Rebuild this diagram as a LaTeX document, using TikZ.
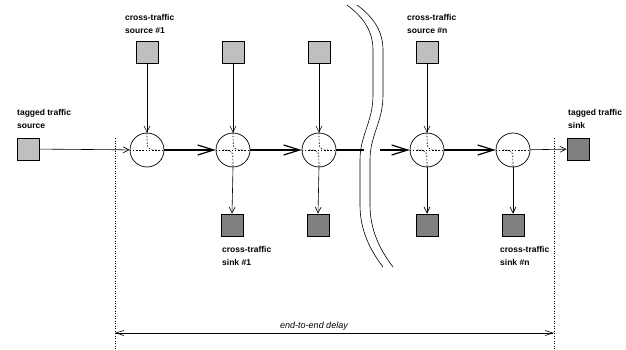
\documentclass[tikz,border=0pt]{standalone}
\usepackage{fontspec}
\setmainfont{Liberation Sans}
\usetikzlibrary{arrows.meta}
\begin{document}
\begin{tikzpicture}[x=1pt,y=-1pt,
  router/.style={circle,draw,line width=0.7pt,minimum size=34pt,inner sep=0pt},
  srcbox/.style={draw,line width=0.9pt,fill=black!25,minimum size=22pt,inner sep=0pt},
  sinkbox/.style={draw,line width=0.9pt,fill=black!50,minimum size=22pt,inner sep=0pt},
  lbl/.style={anchor=north west,inner sep=0pt,align=left,font=\fontsize{8.5}{13}\selectfont\bfseries},
  thinarr/.style={line width=0.6pt,-{Straight Barb[length=6pt,width=6pt]}},
  thickline/.style={line width=1.2pt},
  thickarr/.style={line width=1.2pt,-{Straight Barb[length=16pt,width=10pt]}},
  inner/.style={dash pattern=on 1.6pt off 1.6pt,line width=0.6pt},
  dotline/.style={dash pattern=on 1pt off 1.5pt,line width=0.6pt},
  brk/.style={line width=0.6pt}]
\useasboundingbox (0,0) rectangle (626,350);

% routers
\node[router] (n1) at (147,150) {};
\node[router] (n2) at (233,150) {};
\node[router] (n3) at (319,150) {};
\node[router] (n4) at (427,150) {};
\node[router] (n5) at (513,150) {};

% sources
\node[srcbox] (s1) at (147,52) {};
\node[srcbox] (s2) at (233,52) {};
\node[srcbox] (s3) at (319,52) {};
\node[srcbox] (s4) at (427,52) {};
% sinks
\node[sinkbox] (k2) at (232,225) {};
\node[sinkbox] (k3) at (318,225) {};
\node[sinkbox] (k4) at (427,225) {};
\node[sinkbox] (k5) at (513,225) {};
% tagged
\node[srcbox] (ts) at (28,149) {};
\node[sinkbox] (tk) at (578,149) {};

% labels
\node[lbl] (l1) at (125,14) {cross-traffic\\source \#1};
\node[lbl] (l2) at (407,14) {cross-traffic\\source \#n};
\node[lbl] (l3) at (17,109) {tagged traffic\\source};
\node[lbl] (l4) at (568,109) {tagged traffic\\sink};
\node[lbl] (l5) at (222,246) {cross-traffic\\sink \#1};
\node[lbl] (l6) at (500,246) {cross-traffic\\sink \#n};

% inner dashed paths
\foreach \n in {n1,n2,n3,n4,n5} {
  \draw[inner] (\n.west) -- (\n.east);
}
\foreach \n in {n1,n2,n3,n4} {
  \draw[inner] (\n.north) .. controls (\n.center) .. ([xshift=10pt]\n.center);
}
\foreach \n in {n2,n3,n4,n5} {
  \draw[inner] ([xshift=-10pt]\n.center) .. controls (\n.center) .. (\n.south);
}

% break
\draw[brk] (347,5) .. controls (362,16) and (373,30) .. (373,50) -- (373,95)
  .. controls (373,122) and (360,135) .. (360,160) -- (360,205)
  .. controls (360,230) and (370,250) .. (383,267);
\draw[brk] (357,5) .. controls (372,16) and (383,30) .. (383,50) -- (383,95)
  .. controls (383,122) and (370,135) .. (370,160) -- (370,205)
  .. controls (370,230) and (380,250) .. (393,267);
\coordinate (bL) at (364,150);
\coordinate (bR) at (380,150);

% main chain
\draw[thinarr] (ts) -- (n1);
\draw[thickarr] (n1) -- (n2);
\draw[thickarr] (n2) -- (n3);
\draw[thickline] (n3) -- (bL);
\draw[thickarr] (bR) -- (n4);
\draw[thickarr] (n4) -- (n5);
\draw[thinarr] (n5) -- (tk);

% cross traffic
\draw[thinarr] (s1) -- (n1);
\draw[thinarr] (s2) -- (n2);
\draw[thinarr] (s3) -- (n3);
\draw[thinarr] (s4) -- (n4);
\draw[thinarr] (n2.south) -- (k2.north);
\draw[thinarr] (n3.south) -- (k3.north);
\draw[thinarr] (n4.south) -- (k4.north);
\draw[thinarr] (n5.south) -- (k5.north);

% delay markers
\coordinate (dt1) at (115,138);
\coordinate (db1) at (115,350);
\coordinate (dt2) at (554,138);
\coordinate (db2) at (554,350);
\draw[dotline] (dt1) -- (db1);
\draw[dotline] (dt2) -- (db2);
\coordinate (da1) at (115,333);
\coordinate (da2) at (554,333);
\draw[line width=0.6pt,{Straight Barb[length=8pt,width=5pt]}-{Straight Barb[length=8pt,width=5pt]}] (da1) -- (da2);
\node[anchor=south,inner sep=0pt,font=\fontsize{9}{11}\selectfont\itshape] (dl) at (314,331) {end-to-end delay};
\end{tikzpicture}
\end{document}
